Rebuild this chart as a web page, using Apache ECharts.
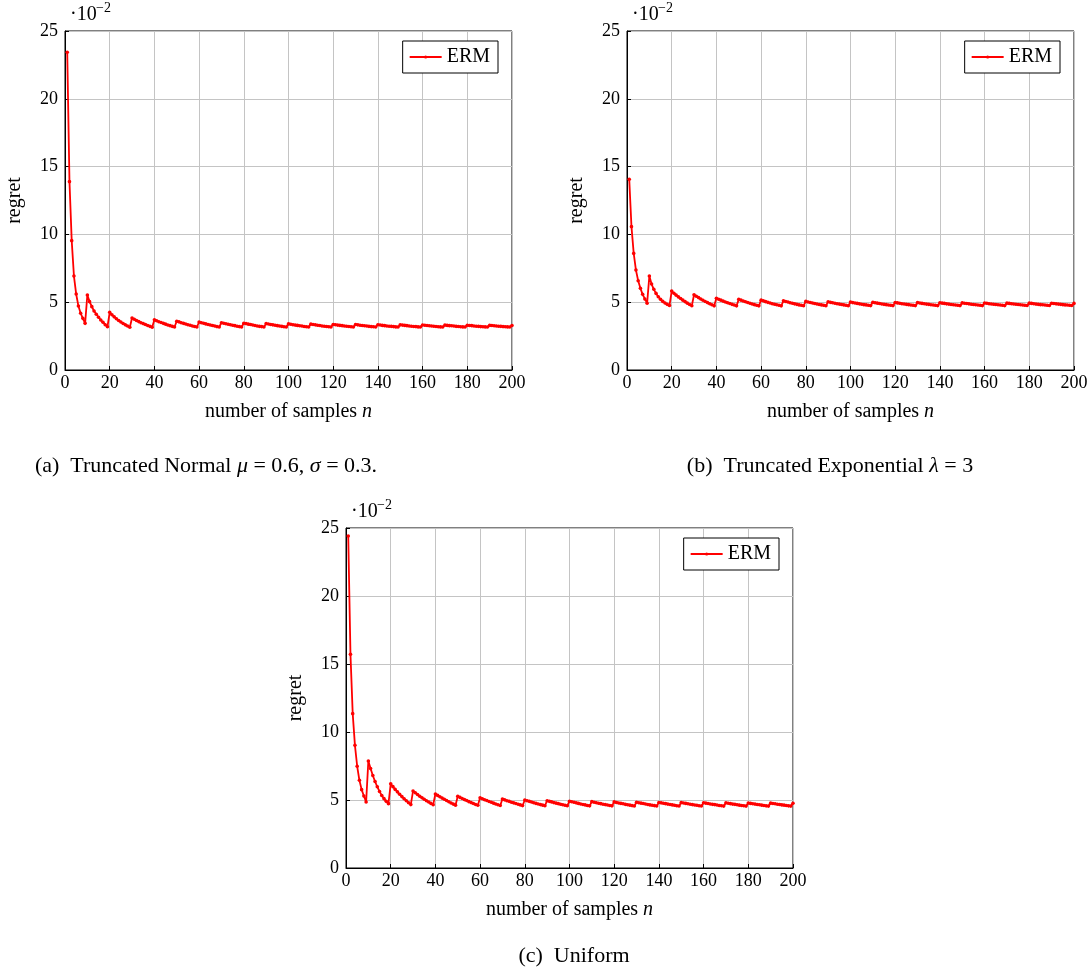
<!DOCTYPE html>
<html>
<head>
<meta charset="utf-8">
<script src="https://cdn.jsdelivr.net/npm/echarts@6/dist/echarts.min.js"></script>
<style>
html,body{margin:0;padding:0;background:#fff;}
#chart{width:1091px;height:972px;}
</style>
</head>
<body>
<div id="chart"></div>
<script>
// values shown in units of 10^-2
const xTicks = [0, 20, 40, 60, 80, 100, 120, 140, 160, 180, 200];
const yTicks = [0, 5, 10, 15, 20, 25];

const regretNormal = [
  23.43, 13.89, 9.54, 6.93, 5.60, 4.72, 4.18, 3.81, 3.44,
  5.53, 5.04, 4.67, 4.35, 4.11, 3.89, 3.69, 3.52, 3.34, 3.19,
  4.25, 4.07, 3.92, 3.78, 3.65, 3.54, 3.43, 3.33, 3.24, 3.15,
  3.83, 3.74, 3.65, 3.57, 3.49, 3.42, 3.35, 3.28, 3.22, 3.16,
  3.70, 3.63, 3.56, 3.50, 3.44, 3.38, 3.32, 3.27, 3.22, 3.17,
  3.60, 3.55, 3.49, 3.44, 3.39, 3.34, 3.30, 3.25, 3.21, 3.17,
  3.54, 3.49, 3.45, 3.40, 3.36, 3.32, 3.28, 3.24, 3.20, 3.17,
  3.49, 3.45, 3.41, 3.37, 3.34, 3.30, 3.27, 3.23, 3.20, 3.17,
  3.45, 3.42, 3.38, 3.35, 3.32, 3.28, 3.25, 3.22, 3.20, 3.17,
  3.42, 3.39, 3.36, 3.33, 3.30, 3.27, 3.24, 3.22, 3.19, 3.17,
  3.40, 3.37, 3.34, 3.31, 3.29, 3.26, 3.24, 3.21, 3.19, 3.17,
  3.38, 3.35, 3.33, 3.30, 3.28, 3.25, 3.23, 3.21, 3.19, 3.17,
  3.36, 3.34, 3.31, 3.29, 3.27, 3.25, 3.23, 3.21, 3.19, 3.17,
  3.35, 3.33, 3.30, 3.28, 3.26, 3.24, 3.22, 3.20, 3.19, 3.17,
  3.34, 3.32, 3.29, 3.27, 3.25, 3.23, 3.22, 3.20, 3.18, 3.17,
  3.33, 3.31, 3.29, 3.27, 3.25, 3.23, 3.21, 3.20, 3.18, 3.17,
  3.32, 3.30, 3.28, 3.26, 3.24, 3.23, 3.21, 3.19, 3.18, 3.17,
  3.31, 3.29, 3.27, 3.26, 3.24, 3.22, 3.21, 3.19, 3.18, 3.17,
  3.30, 3.28, 3.27, 3.25, 3.23, 3.22, 3.20, 3.19, 3.18, 3.17,
  3.29, 3.28, 3.26, 3.25, 3.23, 3.22, 3.20, 3.19, 3.18, 3.17,
  3.28
];

const regretExponential = [
  14.06, 10.57, 8.60, 7.37, 6.58, 6.02, 5.58, 5.24, 4.92,
  6.93, 6.34, 5.95, 5.65, 5.40, 5.21, 5.06, 4.94, 4.84, 4.76,
  5.82, 5.66, 5.52, 5.39, 5.27, 5.15, 5.04, 4.93, 4.83, 4.74,
  5.55, 5.44, 5.34, 5.24, 5.14, 5.05, 4.97, 4.89, 4.81, 4.73,
  5.29, 5.22, 5.15, 5.08, 5.02, 4.96, 4.90, 4.84, 4.79, 4.73,
  5.21, 5.15, 5.09, 5.03, 4.98, 4.92, 4.87, 4.82, 4.78, 4.73,
  5.15, 5.10, 5.04, 4.99, 4.94, 4.89, 4.85, 4.81, 4.77, 4.73,
  5.10, 5.05, 5.01, 4.96, 4.92, 4.88, 4.84, 4.80, 4.77, 4.74,
  5.06, 5.02, 4.98, 4.94, 4.90, 4.87, 4.83, 4.80, 4.77, 4.74,
  5.03, 4.99, 4.96, 4.92, 4.89, 4.86, 4.83, 4.80, 4.77, 4.74,
  5.01, 4.97, 4.94, 4.91, 4.88, 4.85, 4.82, 4.80, 4.77, 4.75,
  4.99, 4.96, 4.93, 4.90, 4.87, 4.84, 4.82, 4.79, 4.77, 4.75,
  4.98, 4.95, 4.92, 4.89, 4.87, 4.84, 4.82, 4.79, 4.77, 4.75,
  4.97, 4.94, 4.91, 4.89, 4.86, 4.84, 4.81, 4.79, 4.77, 4.75,
  4.96, 4.93, 4.91, 4.88, 4.86, 4.83, 4.81, 4.79, 4.77, 4.75,
  4.95, 4.92, 4.90, 4.88, 4.85, 4.83, 4.81, 4.79, 4.77, 4.75,
  4.94, 4.92, 4.89, 4.87, 4.85, 4.83, 4.81, 4.79, 4.77, 4.75,
  4.93, 4.91, 4.89, 4.87, 4.85, 4.83, 4.81, 4.79, 4.77, 4.76,
  4.93, 4.91, 4.89, 4.86, 4.84, 4.82, 4.81, 4.79, 4.77, 4.76,
  4.92, 4.90, 4.88, 4.86, 4.84, 4.82, 4.80, 4.79, 4.77, 4.76,
  4.91
];

const regretUniform = [
  24.41, 15.71, 11.35, 9.02, 7.48, 6.45, 5.76, 5.29, 4.85,
  7.87, 7.31, 6.80, 6.36, 5.97, 5.63, 5.33, 5.10, 4.90, 4.73,
  6.19, 5.98, 5.78, 5.60, 5.42, 5.25, 5.09, 4.94, 4.80, 4.66,
  5.66, 5.53, 5.40, 5.28, 5.17, 5.06, 4.95, 4.85, 4.75, 4.65,
  5.44, 5.34, 5.24, 5.14, 5.05, 4.96, 4.87, 4.78, 4.70, 4.62,
  5.27, 5.19, 5.11, 5.03, 4.96, 4.88, 4.81, 4.74, 4.67, 4.61,
  5.16, 5.09, 5.02, 4.96, 4.89, 4.83, 4.77, 4.71, 4.65, 4.60,
  5.07, 5.01, 4.95, 4.90, 4.84, 4.79, 4.74, 4.69, 4.64, 4.59,
  5.00, 4.95, 4.90, 4.85, 4.80, 4.75, 4.71, 4.66, 4.62, 4.58,
  4.95, 4.90, 4.86, 4.81, 4.77, 4.73, 4.69, 4.65, 4.61, 4.58,
  4.91, 4.87, 4.83, 4.79, 4.75, 4.71, 4.67, 4.64, 4.60, 4.57,
  4.88, 4.84, 4.80, 4.76, 4.73, 4.69, 4.66, 4.63, 4.60, 4.57,
  4.86, 4.82, 4.78, 4.75, 4.72, 4.68, 4.65, 4.62, 4.59, 4.56,
  4.84, 4.80, 4.77, 4.74, 4.71, 4.67, 4.64, 4.61, 4.59, 4.56,
  4.82, 4.79, 4.76, 4.73, 4.70, 4.67, 4.64, 4.61, 4.58, 4.56,
  4.81, 4.78, 4.75, 4.72, 4.69, 4.66, 4.63, 4.61, 4.58, 4.56,
  4.80, 4.77, 4.74, 4.71, 4.68, 4.66, 4.63, 4.60, 4.58, 4.55,
  4.79, 4.76, 4.73, 4.70, 4.68, 4.65, 4.62, 4.60, 4.58, 4.55,
  4.78, 4.75, 4.72, 4.70, 4.67, 4.65, 4.62, 4.60, 4.57, 4.55,
  4.77, 4.74, 4.72, 4.69, 4.67, 4.64, 4.62, 4.60, 4.57, 4.55,
  4.76
];

const seriesName = 'ERM';
const FONT = '"Liberation Serif", "DejaVu Serif", serif';

function pairs(vals) { return vals.map((v, i) => [i + 1, v]); }

const grids = [
  { left: 65, top: 31, width: 447, height: 339 },
  { left: 627, top: 31, width: 447, height: 339 },
  { left: 346, top: 528, width: 447, height: 340 }
];
const allData = [regretNormal, regretExponential, regretUniform];

const xAxes = grids.map((g, i) => ({
  gridIndex: i, type: 'value', min: xTicks[0], max: xTicks[xTicks.length - 1], interval: 20,
  axisLine: { show: true, lineStyle: { color: '#000', width: 1 } },
  axisTick: { show: true, inside: true, length: 4, lineStyle: { color: '#000' } },
  axisLabel: { color: '#000', fontFamily: FONT, fontSize: 18, margin: 4 },
  splitLine: { show: true, lineStyle: { color: '#c4c4c4', width: 1 } },
  name: '{r|number of samples }{i|n}', nameLocation: 'middle', nameGap: 32,
  nameTextStyle: { rich: {
    r: { fontFamily: FONT, fontSize: 20, color: '#000' },
    i: { fontFamily: FONT, fontSize: 20, fontStyle: 'italic', color: '#000' } } }
}));
const yAxes = grids.map((g, i) => ({
  gridIndex: i, type: 'value', min: yTicks[0], max: yTicks[yTicks.length - 1], interval: 5,
  axisLine: { show: true, lineStyle: { color: '#000', width: 1 } },
  axisTick: { show: true, inside: true, length: 4, lineStyle: { color: '#000' } },
  axisLabel: { color: '#000', fontFamily: FONT, fontSize: 18, margin: 7 },
  splitLine: { show: true, lineStyle: { color: '#c4c4c4', width: 1 } },
  name: 'regret', nameLocation: 'middle', nameGap: 40, nameRotate: 90,
  nameTextStyle: { fontFamily: FONT, fontSize: 20, color: '#000' }
}));

const series = allData.map((d, i) => ({
  name: seriesName, type: 'line', xAxisIndex: i, yAxisIndex: i,
  data: pairs(d), symbol: 'circle', symbolSize: 3.6, showSymbol: true, showAllSymbol: true,
  lineStyle: { color: '#ff0000', width: 1.8 }, itemStyle: { color: '#ff0000' },
  animation: false
}));

const legendPos = [
  { right: 1091 - 498, top: 41 },
  { right: 1091 - 1060, top: 41 },
  { right: 1091 - 779, top: 538 }
];
const legends = legendPos.map(p => Object.assign({
  data: [seriesName], orient: 'horizontal', itemWidth: 32, itemHeight: 4, itemGap: 0,
  padding: [6, 8, 6, 6], borderColor: '#000', borderWidth: 1, borderRadius: 0,
  backgroundColor: '#fff', selectedMode: false,
  textStyle: { fontFamily: FONT, fontSize: 20, color: '#000', padding: [0, 0, 0, 0] }
}, p));

const captions = [
  { x: 206, y: 466, text: '(a)  Truncated Normal {i|μ} = 0.6, {i|σ} = 0.3.' },
  { x: 830, y: 466, text: '(b)  Truncated Exponential {i|λ} = 3' },
  { x: 574, y: 956, text: '(c)  Uniform' }
];
const scaleLabels = [ { x: 70, y: 15 }, { x: 632, y: 15 }, { x: 351, y: 512 } ];

const graphics = [];
captions.forEach(c => graphics.push({
  type: 'text', x: c.x, y: c.y, silent: true,
  style: { text: c.text, font: '22px ' + FONT, fill: '#000', align: 'center', verticalAlign: 'middle',
    textAlign: 'center', textVerticalAlign: 'middle',
    rich: { i: { fontFamily: FONT, fontSize: 22, fontStyle: 'italic', fill: '#000', color: '#000' } } }
}));
scaleLabels.forEach(s => {
  graphics.push({ type: 'text', x: s.x, y: s.y, silent: true,
    style: { text: '·10', font: '20px ' + FONT, fill: '#000', align: 'left', verticalAlign: 'middle',
      textAlign: 'left', textVerticalAlign: 'middle' } });
  graphics.push({ type: 'text', x: s.x + 26, y: s.y - 7, silent: true,
    style: { text: '−2', font: '14px ' + FONT, fill: '#000', align: 'left', verticalAlign: 'middle',
      textAlign: 'left', textVerticalAlign: 'middle' } });
});

const chart = echarts.init(document.getElementById('chart'), null, { renderer: 'canvas' });
chart.setOption({
  backgroundColor: '#fff',
  animation: false,
  grid: grids.map(g => Object.assign({ show: true, borderColor: '#000', borderWidth: 1, backgroundColor: 'transparent', containLabel: false }, g)),
  xAxis: xAxes,
  yAxis: yAxes,
  legend: legends,
  series: series,
  graphic: graphics
});
</script>
</body>
</html>
